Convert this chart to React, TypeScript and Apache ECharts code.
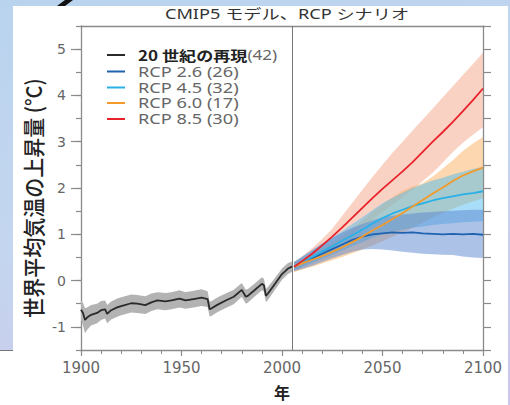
import React, { useEffect, useRef } from "react";
import * as echarts from "echarts";

const TITLE = "CMIP5 モデル、RCP シナリオ";
const Y_NAME = "世界平均気温の上昇量 (°C)";
const X_NAME = "年";

const xTickLabels = [1900, 1950, 2000, 2050, 2100];
const yTickLabels = [-1, 0, 1, 2, 3, 4, 5];

const seriesNames = [
  "20 世紀の再現(42)",
  "RCP 2.6 (26)",
  "RCP 4.5 (32)",
  "RCP 6.0 (17)",
  "RCP 8.5 (30)",
];
const seriesColors = ["#2a2a2a", "#1f63b0", "#29b0e6", "#f39a2b", "#e8232b"];

// Historical simulation (1900-2005)
const histYears = [1900, 1901, 1902, 1903, 1905, 1908, 1910, 1912, 1913, 1915, 1918, 1920, 1925, 1928, 1932, 1935, 1938, 1942, 1945, 1949, 1952, 1956, 1960, 1963, 1964, 1965, 1968, 1972, 1976, 1980, 1982, 1983, 1986, 1990, 1991, 1992, 1993, 1996, 2000, 2003, 2005];
const histMean = [-0.63, -0.7, -0.85, -0.8, -0.74, -0.7, -0.64, -0.62, -0.72, -0.64, -0.58, -0.55, -0.49, -0.5, -0.53, -0.47, -0.43, -0.45, -0.43, -0.39, -0.43, -0.4, -0.37, -0.4, -0.62, -0.6, -0.52, -0.43, -0.35, -0.2, -0.35, -0.33, -0.22, -0.07, -0.1, -0.33, -0.28, -0.1, 0.14, 0.26, 0.3];
const histLow = [-0.84, -0.97, -1.14, -1.07, -0.97, -0.92, -0.85, -0.82, -0.92, -0.84, -0.78, -0.75, -0.69, -0.7, -0.72, -0.66, -0.62, -0.64, -0.62, -0.58, -0.61, -0.58, -0.55, -0.57, -0.78, -0.76, -0.68, -0.59, -0.51, -0.35, -0.5, -0.48, -0.36, -0.21, -0.24, -0.47, -0.42, -0.23, 0.02, 0.14, 0.19];
const histHigh = [-0.43, -0.48, -0.6, -0.58, -0.53, -0.5, -0.44, -0.43, -0.53, -0.45, -0.39, -0.36, -0.3, -0.31, -0.34, -0.28, -0.25, -0.27, -0.25, -0.21, -0.25, -0.22, -0.19, -0.23, -0.46, -0.44, -0.36, -0.28, -0.2, -0.05, -0.2, -0.18, -0.08, 0.07, 0.04, -0.18, -0.14, 0.03, 0.26, 0.38, 0.41];

// Projections (2006-2100)
const futYears = [2006, 2010, 2015, 2020, 2025, 2030, 2035, 2040, 2045, 2050, 2055, 2060, 2065, 2070, 2075, 2080, 2085, 2090, 2095, 2100];

const rcp26Mean = [0.3, 0.38, 0.48, 0.58, 0.68, 0.78, 0.88, 0.95, 1.0, 1.02, 1.04, 1.03, 1.04, 1.02, 1.01, 1.0, 1.01, 1.0, 1.01, 0.99];
const rcp26Low = [0.2, 0.25, 0.32, 0.4, 0.48, 0.55, 0.62, 0.67, 0.68, 0.67, 0.65, 0.62, 0.6, 0.58, 0.57, 0.56, 0.55, 0.52, 0.5, 0.49];
const rcp26High = [0.4, 0.52, 0.66, 0.8, 0.92, 1.04, 1.14, 1.22, 1.3, 1.36, 1.4, 1.43, 1.45, 1.47, 1.48, 1.5, 1.51, 1.52, 1.53, 1.53];

const rcp45Mean = [0.3, 0.39, 0.51, 0.63, 0.74, 0.86, 0.98, 1.1, 1.23, 1.35, 1.45, 1.53, 1.61, 1.67, 1.73, 1.78, 1.82, 1.86, 1.89, 1.93];
const rcp45Low = [0.22, 0.29, 0.38, 0.47, 0.56, 0.65, 0.74, 0.83, 0.93, 1.0, 1.06, 1.1, 1.14, 1.17, 1.2, 1.22, 1.24, 1.26, 1.27, 1.28];
const rcp45High = [0.4, 0.5, 0.64, 0.79, 0.93, 1.07, 1.22, 1.37, 1.52, 1.67, 1.79, 1.9, 2.0, 2.08, 2.16, 2.22, 2.29, 2.35, 2.41, 2.46];

const rcp60Mean = [0.3, 0.37, 0.45, 0.53, 0.62, 0.72, 0.83, 0.95, 1.08, 1.2, 1.33, 1.46, 1.6, 1.74, 1.88, 2.01, 2.15, 2.27, 2.36, 2.44];
const rcp60Low = [0.18, 0.24, 0.3, 0.37, 0.44, 0.51, 0.59, 0.67, 0.76, 0.85, 0.95, 1.04, 1.14, 1.25, 1.36, 1.46, 1.55, 1.64, 1.71, 1.78];
const rcp60High = [0.4, 0.48, 0.58, 0.7, 0.82, 0.96, 1.12, 1.3, 1.48, 1.64, 1.8, 1.94, 2.03, 2.1, 2.25, 2.42, 2.6, 2.8, 2.96, 3.1];

const rcp85Mean = [0.3, 0.42, 0.58, 0.76, 0.95, 1.15, 1.36, 1.57, 1.78, 1.98, 2.17, 2.36, 2.56, 2.78, 3.0, 3.21, 3.43, 3.66, 3.9, 4.15];
const rcp85Low = [0.2, 0.3, 0.42, 0.56, 0.7, 0.85, 1.0, 1.16, 1.32, 1.48, 1.64, 1.8, 1.97, 2.15, 2.33, 2.55, 2.78, 2.98, 3.15, 3.31];
const rcp85High = [0.4, 0.52, 0.7, 0.9, 1.12, 1.4, 1.68, 1.96, 2.24, 2.5, 2.76, 3.0, 3.24, 3.48, 3.72, 3.96, 4.2, 4.44, 4.68, 4.92];

const FONT = "'Noto Sans', 'Noto Sans CJK JP', sans-serif";
const WIDE = "'DejaVu Sans', 'Noto Sans', sans-serif";
const CJK = "'Noto Sans CJK JP', sans-serif";

function pairs(xs: number[], ys: number[]) {
  return xs.map((x, i) => [x, ys[i]]);
}

function band(xs: number[], lo: number[], hi: number[], color: string, opacity: number, z: number) {
  return {
    type: "custom",
    silent: true,
    z,
    clip: true,
    data: [[xs[0], lo[0]]],
    renderItem: (params: any, api: any) => {
      const pts: number[][] = [];
      for (let i = 0; i < xs.length; i++) pts.push(api.coord([xs[i], hi[i]]));
      for (let i = xs.length - 1; i >= 0; i--) pts.push(api.coord([xs[i], lo[i]]));
      return {
        type: "polygon",
        shape: { points: pts },
        style: { fill: color, opacity },
      };
    },
  };
}

function line(name: string, xs: number[], ys: number[], color: string, z: number, extra: any = {}) {
  return {
    type: "line",
    name,
    data: pairs(xs, ys),
    showSymbol: false,
    symbol: "none",
    color,
    z,
    lineStyle: { color, width: 1.8 },
    ...extra,
  };
}

function legendGraphic() {
  const items: any[] = [];
  const rowY = [55, 71.5, 87.5, 103, 119];
  seriesNames.forEach((name, i) => {
    const y = rowY[i];
    items.push({
      type: "line",
      shape: { x1: 107, y1: y, x2: 125, y2: y },
      style: { stroke: seriesColors[i], lineWidth: 2 },
      silent: true,
    });
    if (i === 0) {
      items.push({
        type: "text",
        x: 138,
        y,
        scaleX: 1.22,
        style: {
          text: "{b|20 世紀の再現}{g|(42)}",
          verticalAlign: "middle",
          rich: {
            b: { fontSize: 14, fill: "#222", fontWeight: "bold", fontFamily: CJK },
            g: { fontSize: 14, fill: "#666", fontFamily: FONT },
          },
        },
      });
    } else {
      items.push({
        type: "text",
        x: 138,
        y,
        scaleX: 1.3,
        style: {
          text: name,
          fontSize: 14,
          fill: "#666",
          verticalAlign: "middle",
          fontFamily: FONT,
        },
      });
    }
  });
  return items;
}

export default function App() {
  const ref = useRef<HTMLDivElement>(null);
  useEffect(() => {
    document.body.style.margin = "0";
    if (!ref.current) return;
    const chart = echarts.init(ref.current, null, { renderer: "svg" });
    const axisColor = "#8a8a8a";
    const option: any = {
      animation: false,
      backgroundColor: "transparent",
      textStyle: { fontFamily: FONT },
      grid: { left: 81, right: 27, top: 26, bottom: 51, containLabel: false },
      xAxis: [
        {
          type: "value",
          min: 1900,
          max: 2100,
          interval: 50,
          position: "bottom",
          axisLine: { show: true, onZero: false, lineStyle: { color: axisColor, width: 1.3 } },
          axisTick: { show: true, length: 6, lineStyle: { color: axisColor, width: 1.2 } },
          minorTick: { show: true, splitNumber: 5, length: 4, lineStyle: { color: axisColor, width: 1 } },
          splitLine: { show: false },
          axisLabel: {
            color: "#666",
            fontSize: 15,
            margin: 10,
            fontFamily: WIDE,
            formatter: (v: number) => (xTickLabels.indexOf(v) >= 0 ? String(v) : ""),
          },
          name: X_NAME,
          nameLocation: "middle",
          nameGap: 34,
          nameTextStyle: { fontSize: 16, color: "#222", fontWeight: "bold", fontFamily: CJK },
        },
        {
          type: "value",
          min: 1900,
          max: 2100,
          position: "top",
          axisLine: { show: true, onZero: false, lineStyle: { color: axisColor, width: 1.3 } },
          axisTick: { show: false },
          axisLabel: { show: false },
          splitLine: { show: false },
        },
      ],
      yAxis: [
        {
          type: "value",
          min: -1.5,
          max: 5.5,
          interval: 0.5,
          position: "left",
          axisLine: { show: true, onZero: false, lineStyle: { color: axisColor, width: 1.3 } },
          axisTick: { show: true, length: 5, lineStyle: { color: axisColor, width: 1.2 } },
          splitLine: { show: false },
          axisLabel: {
            color: "#666",
            fontSize: 14,
            margin: 15,
            fontFamily: WIDE,
            formatter: (v: number) => (yTickLabels.indexOf(v) >= 0 ? String(v) : ""),
          },
        },
        {
          type: "value",
          min: -1.5,
          max: 5.5,
          interval: 0.5,
          position: "right",
          axisLine: { show: true, onZero: false, lineStyle: { color: axisColor, width: 1.3 } },
          axisTick: { show: true, length: 8, lineStyle: { color: axisColor, width: 1.2 } },
          axisLabel: { show: false },
          splitLine: { show: false },
        },
        {
          type: "value",
          min: -1.5,
          max: 5.5,
          position: "left",
          axisLine: { show: false, onZero: false },
          axisTick: { show: true, length: 10, customValues: yTickLabels, lineStyle: { color: axisColor, width: 1.2 } },
          axisLabel: { show: false },
          splitLine: { show: false },
        },
      ],
      graphic: [
        {
          type: "text",
          x: 287,
          y: 14,
          scaleX: 1.3,
          style: {
            text: TITLE,
            fontSize: 14,
            fill: "#333",
            align: "center",
            verticalAlign: "middle",
            fontFamily: FONT,
          },
        },
        {
          type: "text",
          x: 33,
          y: 198,
          rotation: Math.PI / 2,
          scaleY: 1.1,
          style: {
            text: Y_NAME,
            fontSize: 20,
            fill: "#222",
            align: "center",
            verticalAlign: "middle",
            fontFamily: CJK,
            fontWeight: 500,
          },
        },
        {
          type: "polygon",
          shape: { points: [[57, 6], [65, 6], [73, 0], [65, 0]] },
          style: { fill: "#111" },
        },
        ...legendGraphic(),
      ],
      series: [
        band(histYears, histLow, histHigh, "#b3b3b3", 1, 1),
        band(futYears, rcp85Low, rcp85High, "#f4a58a", 0.5, 1),
        band(futYears, rcp60Low, rcp60High, "#fbb060", 0.5, 1),
        band(futYears, rcp45Low, rcp45High, "#52bdf0", 0.5, 1),
        band(futYears, rcp26Low, rcp26High, "#5a85cf", 0.5, 1),
        line(seriesNames[0], histYears, histMean, seriesColors[0], 3, {
          markLine: {
            silent: true,
            symbol: "none",
            label: { show: false },
            lineStyle: { color: "#777", width: 1, type: "solid" },
            data: [{ xAxis: 2005 }],
          },
        }),
        line(seriesNames[1], futYears, rcp26Mean, seriesColors[1], 3),
        line(seriesNames[2], futYears, rcp45Mean, seriesColors[2], 4),
        line(seriesNames[3], futYears, rcp60Mean, seriesColors[3], 5),
        line(seriesNames[4], futYears, rcp85Mean, seriesColors[4], 6),
      ],
    };
    chart.setOption(option);
    return () => chart.dispose();
  }, []);

  return (
    <div
      style={{
        position: "relative",
        width: 510,
        height: 405,
        overflow: "hidden",
        background: "linear-gradient(165deg, #b9d3ee 0%, #c4d6ef 45%, #cbc6ea 100%)",
      }}
    >
      <div style={{ position: "absolute", left: 13, top: 6, width: 495, height: 399, background: "#fff" }} />
      <div
        style={{
          position: "absolute",
          left: 0,
          top: 350,
          width: 13,
          height: 55,
          background: "#fff",
          borderTop: "1px solid #777",
        }}
      />
      <div ref={ref} style={{ position: "absolute", left: 0, top: 0, width: 510, height: 405 }} />
    </div>
  );
}
